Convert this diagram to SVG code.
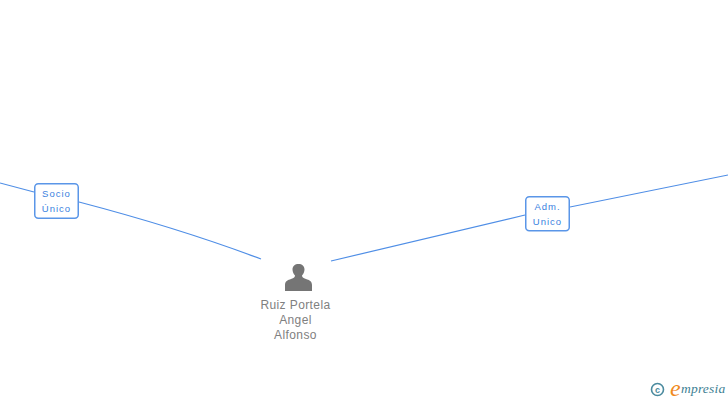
<svg xmlns="http://www.w3.org/2000/svg" width="728" height="400" viewBox="0 0 728 400">
<style>
.edge{fill:none;stroke:#4f8ee6;stroke-width:1.2}
.box{fill:#fff;stroke:#5a96e8;stroke-width:1.5}
.lbl{font:9.500px "Liberation Sans",Arial,sans-serif;fill:#3a7fe0;letter-spacing:1px;text-anchor:middle}
.name{font:12px "Liberation Sans",Arial,sans-serif;fill:#808080;letter-spacing:.4px;text-anchor:middle}
</style>
<rect width="728" height="400" fill="#fff"/>
<g id="connectors">
<path class="edge" d="M0 183 L34 192"/>
<path class="edge" d="M79 202 C140 218 200 236 261 259"/>
<path class="edge" d="M331 261 L525 215"/>
<path class="edge" d="M570 207 L728 175"/>
</g>
<g id="label-socio">
<rect class="box" x="34.750" y="183.750" width="43.500" height="34.500" rx="3.500"/>
<text class="lbl" x="56.500" y="197">Socio</text>
<text class="lbl" x="56.500" y="212">Único</text>
</g>
<g id="label-adm">
<rect class="box" x="525.750" y="196.750" width="43.500" height="34" rx="3.500"/>
<text class="lbl" x="547.500" y="210">Adm.</text>
<text class="lbl" x="547.500" y="225">Unico</text>
</g>
<g id="person">
<path fill="#757575" d="M285 291 V285 C285 281 288 280 291 279 C294 278 295 277 295 275.500 C293.500 274 292.500 271.500 292.500 269.500 C292.500 266 295 264 298.500 264 C302 264 304.500 266 304.500 269.500 C304.500 271.500 303.500 274 302 275.500 C302 277 303 278 306 279 C309 280 312 281 312 285 V291 Z"/>
<text class="name" x="295.500" y="309">Ruiz Portela</text>
<text class="name" x="295.500" y="324">Angel</text>
<text class="name" x="295.500" y="339">Alfonso</text>
</g>
<g id="logo">
<circle cx="657.500" cy="389.500" r="6" fill="none" stroke="#4a8a9e" stroke-width="1.600"/>
<text x="657.500" y="392.500" font-family="'Liberation Sans',sans-serif" font-size="9" font-weight="bold" fill="#4a8a9e" text-anchor="middle">c</text>
<text x="670" y="396" font-family="'Liberation Serif',serif" font-style="italic" font-size="24" fill="#f08a1d">e</text>
<text x="681" y="393" font-family="'Liberation Serif',serif" font-style="italic" font-size="13.500" letter-spacing=".2" fill="#3d7f93">mpresia</text>
</g>
</svg>
